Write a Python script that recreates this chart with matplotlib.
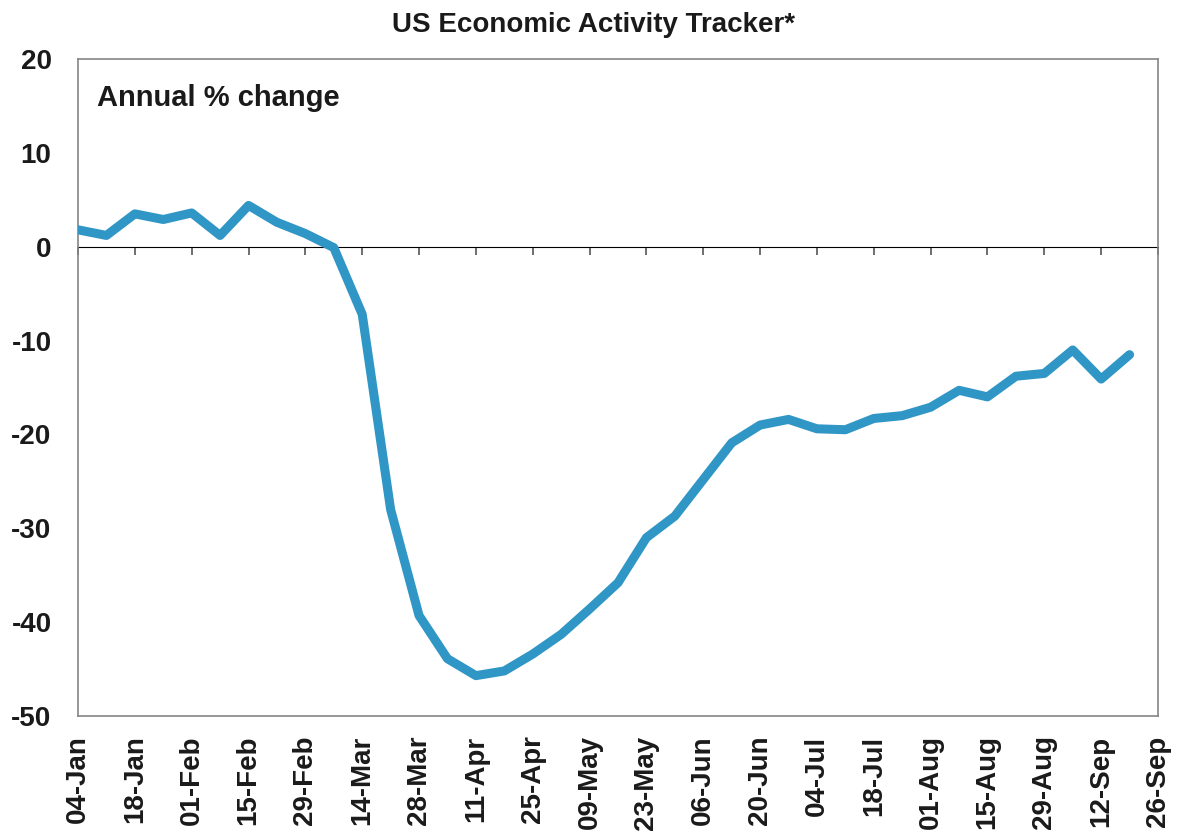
import numpy as np
import matplotlib
matplotlib.use('Agg')
import matplotlib.pyplot as plt
import matplotlib.dates as mdates

plt.rcParams['font.family'] = ['Liberation Sans', 'DejaVu Sans']
plt.rcParams['font.weight'] = 'bold'
plt.rcParams['axes.unicode_minus'] = False

# weekly readings, annual % change
weeks = np.arange(np.datetime64('2020-01-04'), np.datetime64('2020-09-20'), np.timedelta64(7, 'D'))
tracker = [1.8, 1.2, 3.5, 2.9, 3.6, 1.2, 4.4, 2.6, 1.4, -0.1,
           -7.2, -28.0, -39.3, -43.9, -45.7, -45.2, -43.4, -41.3, -38.6, -35.8,
           -31.0, -28.7, -24.8, -20.9, -19.0, -18.4, -19.4, -19.5, -18.3, -18.0,
           -17.1, -15.3, -16.0, -13.8, -13.5, -11.0, -14.1, -11.5]

x_start = np.datetime64('2020-01-04')
x_end = np.datetime64('2020-09-26')
tick_dates = np.arange(x_start, x_end + np.timedelta64(1, 'D'), np.timedelta64(14, 'D'))
y_ticks = [20, 10, 0, -10, -20, -30, -40, -50]

txt = '#1a1a1a'
edge = '#858585'

fig = plt.figure(figsize=(11.79, 8.36), dpi=100)
ax = fig.add_axes([78/1179, 1 - 716/836, (1158 - 78)/1179, (716 - 59)/836])

ax.plot(weeks, tracker, color='#3096c6', lw=6.5, solid_capstyle='round', zorder=3)

ax.set_xlim(x_start, x_end)
ax.set_ylim(-50, 20)
ax.set_yticks(y_ticks)
ax.set_xticks(tick_dates)
ax.xaxis.set_major_formatter(mdates.DateFormatter('%d-%b'))
ax.tick_params(axis='x', length=0, pad=14, labelsize=20, labelcolor=txt, labelrotation=90)
ax.tick_params(axis='y', length=0, pad=19, labelsize=20, labelcolor=txt)
for lab in ax.get_xticklabels():
    lab.set_verticalalignment('top')

for s in ax.spines.values():
    s.set_color(edge)
    s.set_linewidth(1.2)

# zero line with the fortnightly tick marks hanging below it
zero = ax.secondary_xaxis(50 / 70)
zero.set_xticks(tick_dates)
zero.tick_params(axis='x', direction='in', length=6, width=1.2, color='#555555', labelbottom=False)
zero.spines['bottom'].set_color('#555555')
zero.spines['bottom'].set_linewidth(1.6)
zero.xaxis.set_major_formatter(plt.NullFormatter())

ax.text(0.0176, 0.94, 'Annual % change', transform=ax.transAxes,
        fontsize=21, color=txt, va='center', ha='left')

fig.text(594/1179, 1 - 25/836, 'US Economic Activity Tracker*', fontsize=20,
         color=txt, ha='center', va='center')

fig.savefig('out.png', dpi=100)
